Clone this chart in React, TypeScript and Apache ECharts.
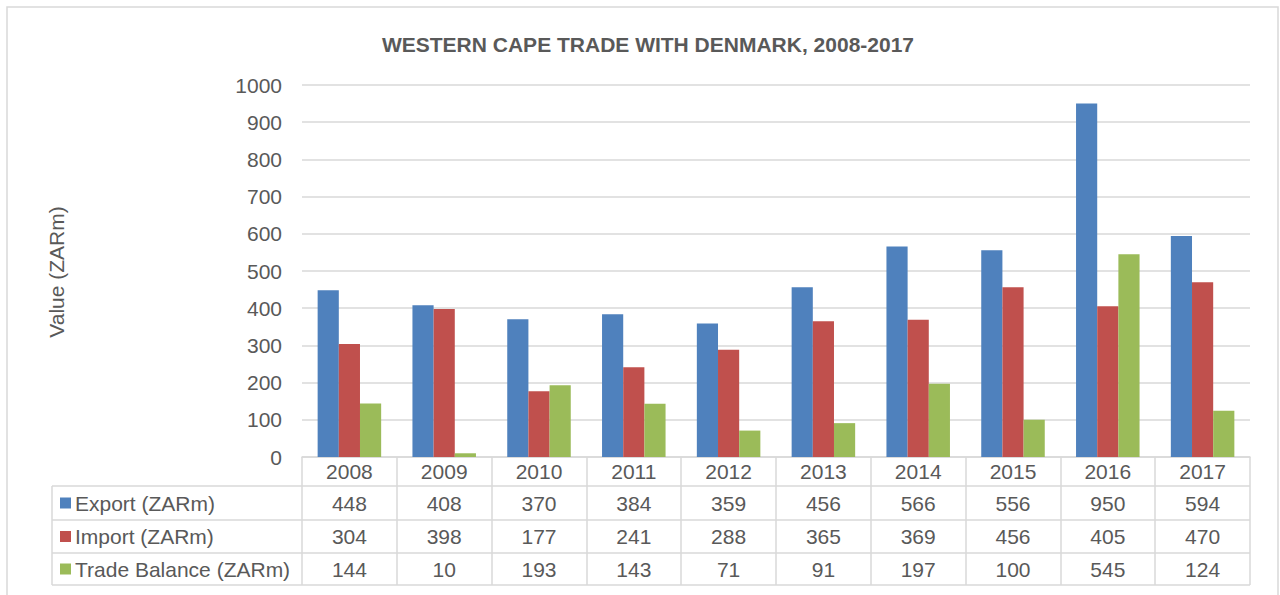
import React, { useEffect, useRef } from "react";
import * as echarts from "echarts";

const years = ["2008", "2009", "2010", "2011", "2012", "2013", "2014", "2015", "2016", "2017"];
const exportVals = [448, 408, 370, 384, 359, 456, 566, 556, 950, 594];
const importVals = [304, 398, 177, 241, 288, 365, 369, 456, 405, 470];
const balanceVals = [144, 10, 193, 143, 71, 91, 197, 100, 545, 124];
const seriesNames = ["Export (ZARm)", "Import (ZARm)", "Trade Balance (ZARm)"];
const colors = ["#4F81BD", "#C0504D", "#9BBB59"];
const yTicks = { min: 0, max: 1000, interval: 100 };

const FONT = "Liberation Sans, Arial, sans-serif";
const TXT = "#595959";
const LINE = "#D9D9D9";
const FS = 21;

export default function App() {
  const ref = useRef<HTMLDivElement>(null);
  useEffect(() => {
    if (!ref.current) return;
    const chart = echarts.init(ref.current, undefined, { renderer: "svg" });
    const gridLeft = 302, gridRight = 1250, gridTop = 85, gridBottom = 457;
    const rowLines = [486, 520, 553, 585];
    const rowCenters = [503, 536.5, 569];
    const allVals = [exportVals, importVals, balanceVals];

    const valueAxes = allVals.map((vals, i) => ({
      type: "category" as const,
      data: years,
      gridIndex: 0,
      position: "bottom" as const,
      axisLine: { show: false },
      axisTick: { show: false },
      axisLabel: {
        interval: 0,
        margin: rowCenters[i] - gridBottom,
        verticalAlign: "middle",
        color: TXT,
        fontSize: FS,
        fontFamily: FONT,
        formatter: (_v: string, idx: number) => String(vals[idx]),
      },
    }));

    const graphics: any[] = [
      {
        type: "rect",
        shape: { x: 7, y: 7, width: 1271, height: 600 },
        style: { fill: "none", stroke: LINE, lineWidth: 1.5 },
        silent: true,
      },
      {
        type: "text",
        x: 56,
        y: 272,
        rotation: Math.PI / 2,
        style: {
          text: "Value (ZARm)",
          fill: TXT,
          font: `${FS}px ${FONT}`,
          align: "center",
          verticalAlign: "middle",
        },
      },
      {
        type: "line",
        shape: { x1: 52, y1: rowLines[0], x2: 52, y2: rowLines[3] },
        style: { stroke: LINE, lineWidth: 1.5 },
      },
    ];
    rowLines.forEach((y) => {
      graphics.push({
        type: "line",
        shape: { x1: 52, y1: y, x2: gridRight, y2: y },
        style: { stroke: LINE, lineWidth: 1.5 },
      });
    });
    seriesNames.forEach((name, i) => {
      graphics.push({
        type: "rect",
        shape: { x: 60, y: rowCenters[i] - 5.5, width: 11, height: 11 },
        style: { fill: colors[i] },
      });
      graphics.push({
        type: "text",
        x: 75,
        y: rowCenters[i],
        style: {
          text: name,
          fill: TXT,
          font: `${FS}px ${FONT}`,
          align: "left",
          verticalAlign: "middle",
        },
      });
    });

    chart.setOption({
      animation: false,
      title: {
        text: "WESTERN CAPE TRADE WITH DENMARK, 2008-2017",
        left: 643,
        top: 29,
        textAlign: "center",
        textStyle: { color: TXT, fontSize: FS, fontWeight: "bold", fontFamily: FONT },
      },
      grid: {
        left: gridLeft,
        right: 1280 - gridRight,
        top: gridTop,
        bottom: 595 - gridBottom,
        containLabel: false,
      },
      xAxis: [
        {
          type: "category",
          data: years,
          axisLine: { lineStyle: { color: LINE, width: 1.5 } },
          axisTick: {
            show: true,
            length: rowLines[3] - gridBottom,
            lineStyle: { color: LINE, width: 1.5 },
          },
          axisLabel: {
            interval: 0,
            margin: (gridBottom + rowLines[0]) / 2 - gridBottom,
            verticalAlign: "middle",
            color: TXT,
            fontSize: FS,
            fontFamily: FONT,
          },
        },
        ...valueAxes,
      ],
      yAxis: {
        type: "value",
        min: yTicks.min,
        max: yTicks.max,
        interval: yTicks.interval,
        axisLine: { show: false },
        axisTick: { show: false },
        axisLabel: {
          color: TXT,
          fontSize: FS,
          fontFamily: FONT,
          margin: 20,
          formatter: (v: number) => String(v),
        },
        splitLine: { lineStyle: { color: LINE, width: 1.5 } },
      },
      series: allVals.map((vals, i) => ({
        name: seriesNames[i],
        type: "bar",
        xAxisIndex: 0,
        data: vals,
        barGap: "0%",
        barCategoryGap: "33%",
        itemStyle: { color: colors[i] },
      })),
      graphic: graphics,
    });
    return () => chart.dispose();
  }, []);
  return (
    <div
      ref={ref}
      style={{ position: "fixed", left: 0, top: 0, width: 1280, height: 595, background: "#fff" }}
    />
  );
}
